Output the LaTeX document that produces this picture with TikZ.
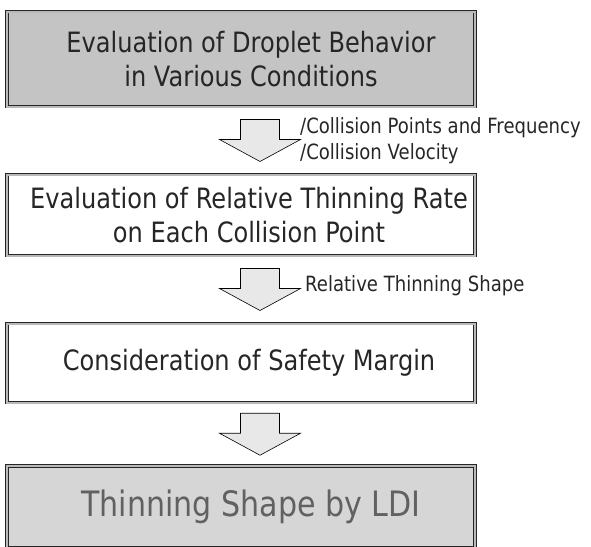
\documentclass[tikz,border=0pt]{standalone}
\usepackage{fontspec}
\setmainfont{DejaVu Sans}[FakeStretch=0.86]
\usetikzlibrary{calc}
\definecolor{boxgray}{gray}{0.77}
\definecolor{lowgray}{gray}{0.84}
\definecolor{arrowgray}{gray}{0.91}
\colorlet{inkgray}{black!85}
\tikzset{
  flowbox/.style={draw=black!85, double=gray!55, double distance=2pt, line width=.7pt,
    minimum width=468pt, inner sep=0pt},
  boxtext/.style={align=center, inner sep=0pt, text=inkgray,
    font=\fontsize{28}{34}\selectfont},
  notelabel/.style={anchor=west, align=left, inner sep=0pt,
    font=\fontsize{21}{26}\selectfont, text=inkgray},
}
\newcommand{\flowarrow}[2]{
\coordinate (m) at ($(#1.south)!.5!(#2.north)$);
\begin{scope}[shift={(m)}, xshift=19pt]
\filldraw[fill=arrowgray, draw=black, line width=.6pt, line join=miter]
  (-19.5,-21) -- (19.5,-21) -- (19.5,-1) -- (40.5,-1) -- (0,21) -- (-40.5,-1) -- (-19.5,-1) -- cycle;
\end{scope}
}

\begin{document}
\begin{tikzpicture}[x=1pt, y=-1pt]
\useasboundingbox (0,0) rectangle (591,546);

\node[flowbox, fill=boxgray, minimum height=95pt] (b1) at (241,59) {};
\node[flowbox, fill=white, minimum height=81pt] (b2) at (241,215) {};
\node[flowbox, fill=white, minimum height=79pt] (b3) at (241,363) {};
\node[flowbox, fill=lowgray, minimum height=82pt] (b4) at (241,507) {};

\node[boxtext] (t1) at ([xshift=10pt]b1.center) {Evaluation of Droplet Behavior\\in Various Conditions};
\node[boxtext] (t2) at ([xshift=8pt]b2.center) {Evaluation of Relative Thinning Rate\\on Each Collision Point};
\node[boxtext] (t3) at ([xshift=8pt]b3.center) {Consideration of Safety Margin};
\node[boxtext, text=black!62, font=\fontsize{35}{40}\selectfont] (t4) at ([xshift=10pt]b4.center) {Thinning Shape by LDI};

% arrows between the steps
\flowarrow{b1}{b2}
\flowarrow{b2}{b3}
\flowarrow{b3}{b4}

\node[notelabel] (l1) at (300,141) {/Collision Points and Frequency\\/Collision Velocity};
\node[notelabel] (l2) at (305,286) {Relative Thinning Shape};
\end{tikzpicture}
\end{document}
